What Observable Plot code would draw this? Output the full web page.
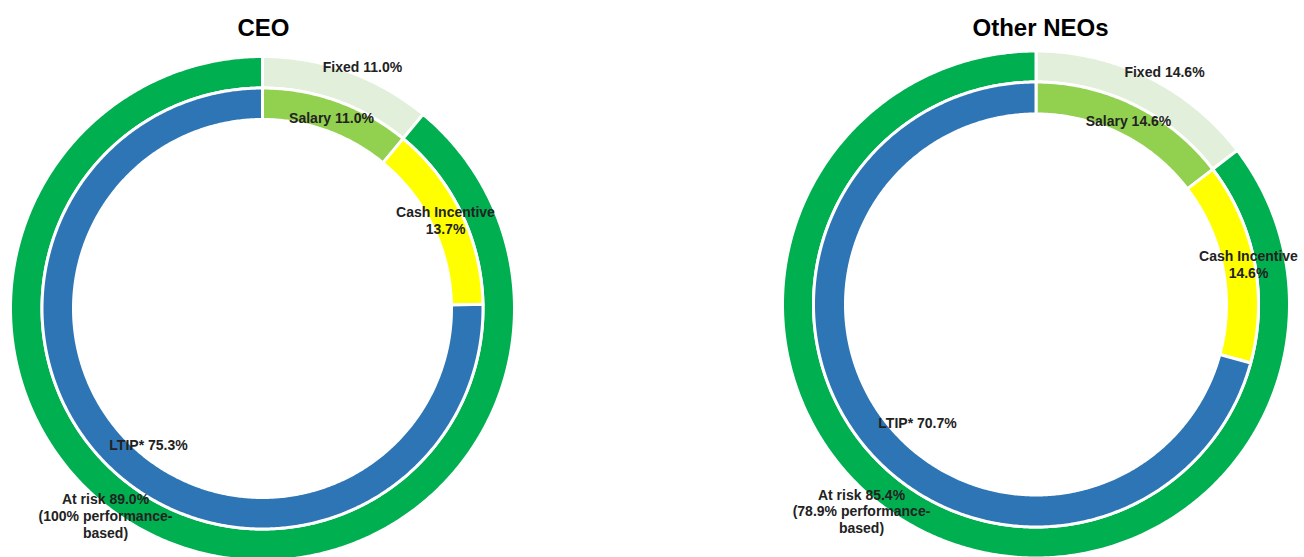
<!DOCTYPE html>
<html>
<head>
<meta charset="utf-8">
<script src="https://cdn.jsdelivr.net/npm/d3@7"></script>
<script src="https://cdn.jsdelivr.net/npm/@observablehq/plot@0.6"></script>
<style>
  html, body { margin: 0; padding: 0; background: #ffffff; }
  #chart { width: 1304px; height: 557px; overflow: hidden; }
</style>
</head>
<body>
<div id="chart"></div>
<script>
// ---------- DATA ----------
const charts = ["CEO", "Other NEOs"];
const outerCategories = ["Fixed", "At risk"];
const outerCEO = [11.0, 89.0];
const outerNEO = [14.6, 85.4];
const innerCategories = ["Salary", "Cash Incentive", "LTIP*"];
const innerCEO = [11.0, 13.7, 75.3];
const innerNEO = [14.6, 14.6, 70.7];
const performanceBased = [100, 78.9];

// ---------- STYLE / LAYOUT ----------
const outerColors = ["#e2efda", "#00b050"];
const innerColors = ["#92d050", "#ffff00", "#2e75b6"];
const W = 1304, H = 557;
const layout = [
  {cx: 262, cy: 308, rOuter: 252, rMid: 220.5, rInner: 189, title: [263, 28],
   labelOffsets: {Fixed: [100, -242], "At risk": [-157, 207], Salary: [69, -191], "Cash Incentive": [183, -88], "LTIP*": [-114, 136]}},
  {cx: 1035.5, cy: 304, rOuter: 253.5, rMid: 222.5, rInner: 190.5, title: [1040, 28],
   labelOffsets: {Fixed: [128.5, -233], "At risk": [-174.5, 206.5], Salary: [92.5, -184], "Cash Incentive": [212.5, -40], "LTIP*": [-118.5, 118]}}
];

const outerValues = [outerCEO, outerNEO];
const innerValues = [innerCEO, innerNEO];
const fmt = v => v.toFixed(1) + "%";

// Build arc polygons from values
const arcPts = [];
function addRing(ci, cats, vals, colors, r0, r1, ring) {
  const L = layout[ci];
  const total = d3.sum(vals);
  let acc = 0;
  vals.forEach((v, i) => {
    const a0 = acc / total * 2 * Math.PI;
    acc += v;
    const a1 = acc / total * 2 * Math.PI;
    const key = `${ci}-${ring}-${i}`;
    const n = Math.max(2, Math.ceil((a1 - a0) / (Math.PI / 360)));
    for (let k = 0; k <= n; k++) {
      const a = a0 + (a1 - a0) * k / n;
      arcPts.push({key, color: colors[i], x: L.cx + r1 * Math.sin(a), y: L.cy - r1 * Math.cos(a)});
    }
    for (let k = n; k >= 0; k--) {
      const a = a0 + (a1 - a0) * k / n;
      arcPts.push({key, color: colors[i], x: L.cx + r0 * Math.sin(a), y: L.cy - r0 * Math.cos(a)});
    }
  });
}
charts.forEach((c, ci) => {
  const L = layout[ci];
  addRing(ci, outerCategories, outerValues[ci], outerColors, L.rMid, L.rOuter, "outer");
  addRing(ci, innerCategories, innerValues[ci], innerColors, L.rInner, L.rMid, "inner");
});

// Labels
const labels = [];
charts.forEach((c, ci) => {
  const L = layout[ci];
  outerCategories.forEach((cat, i) => {
    let text = `${cat} ${fmt(outerValues[ci][i])}`;
    if (cat === "At risk") {
      const p = performanceBased[ci];
      text = `${cat} ${fmt(outerValues[ci][i])}\n(${Number.isInteger(p) ? p : p.toFixed(1)}% performance-\nbased)`;
    }
    const o = L.labelOffsets[cat];
    labels.push({x: L.cx + o[0], y: L.cy + o[1], text});
  });
  innerCategories.forEach((cat, i) => {
    const text = cat === "Cash Incentive"
      ? `${cat}\n${fmt(innerValues[ci][i])}`
      : `${cat} ${fmt(innerValues[ci][i])}`;
    const o = L.labelOffsets[cat];
    labels.push({x: L.cx + o[0], y: L.cy + o[1], text});
  });
});
const titles = charts.map((c, ci) => ({x: layout[ci].title[0], y: layout[ci].title[1], text: c}));

const plot = Plot.plot({
  width: W, height: H,
  margin: 0,
  x: {domain: [0, W], range: [0, W], axis: null},
  y: {domain: [0, H], range: [0, H], axis: null},
  color: {type: "identity"},
  style: {fontFamily: "'Liberation Sans', Arial, sans-serif", background: "#ffffff"},
  marks: [
    Plot.line(arcPts, {x: "x", y: "y", z: "key", fill: "color", stroke: "#ffffff", strokeWidth: 3, curve: "linear-closed"}),
    Plot.text(labels, {x: "x", y: "y", text: "text", fontSize: 14, fontWeight: "bold", fill: "#222222", lineHeight: 1.2}),
    Plot.text(titles, {x: "x", y: "y", text: "text", fontSize: 24, fontWeight: "bold", fill: "#000000"})
  ]
});
document.getElementById("chart").appendChild(plot);
</script>
</body>
</html>
